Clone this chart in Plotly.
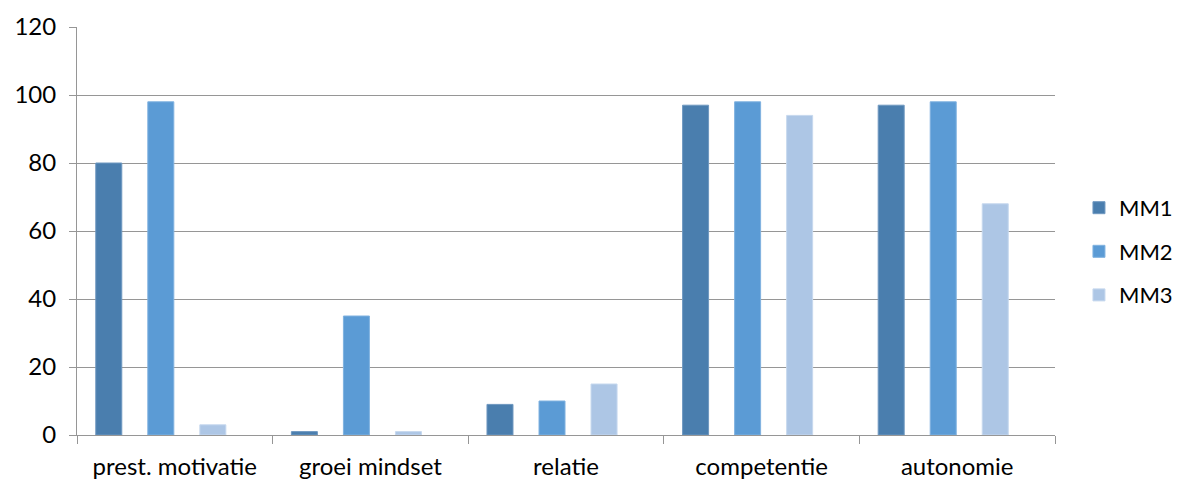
import plotly.graph_objects as go

categories = ["prest. motivatie", "groei mindset", "relatie", "competentie", "autonomie"]
mm1 = [80, 1, 9, 97, 97]
mm2 = [98, 35, 10, 98, 98]
mm3 = [3, 1, 15, 94, 68]
series_names = ["MM1", "MM2", "MM3"]
y_ticks = [0, 20, 40, 60, 80, 100, 120]

colors = ["#4a7eae", "#5b9bd5", "#adc6e5"]
edge = ["#6f98c0", "#80b2e0", "#c6d8ee"]
offsets = [-0.404, -0.138, 0.128]
bw = 0.133

fig = go.Figure()
for i, (name, vals) in enumerate(zip(series_names, [mm1, mm2, mm3])):
    fig.add_trace(go.Bar(
        x=categories, y=vals, name=name,
        marker=dict(color=colors[i], line=dict(color=edge[i], width=1)),
        width=bw, offset=offsets[i], legendgroup=name,
    ))

font = "Lato"
fs = 24
fig.update_layout(
    width=1180, height=482,
    margin=dict(l=77, r=125, t=27, b=47, autoexpand=False),
    paper_bgcolor="white", plot_bgcolor="white",
    barmode="overlay",
    font=dict(family=font, size=fs, color="#000000"),
    legend=dict(x=1.0245, y=0.45, xanchor="left", yanchor="middle",
                font=dict(size=22), tracegroupgap=12, traceorder="grouped",
                itemwidth=30),
    showlegend=True,
)
fig.update_xaxes(
    type="category", range=[-0.5, 4.5], automargin=False,
    showline=True, linecolor="#969696", linewidth=1,
    ticks="outside", tickson="boundaries", ticklen=8, tickcolor="#969696",
    showgrid=False, tickfont=dict(size=fs, family=font), ticklabelstandoff=10,
)
fig.update_yaxes(
    range=[0, 120], tickvals=y_ticks, automargin=False,
    showline=True, linecolor="#969696", linewidth=1,
    ticks="outside", ticklen=7, tickcolor="#969696",
    showgrid=True, gridcolor="#969696", gridwidth=1,
    zeroline=False, tickfont=dict(size=fs, family=font), ticklabelstandoff=8,
)
fig.write_html("out.html")
